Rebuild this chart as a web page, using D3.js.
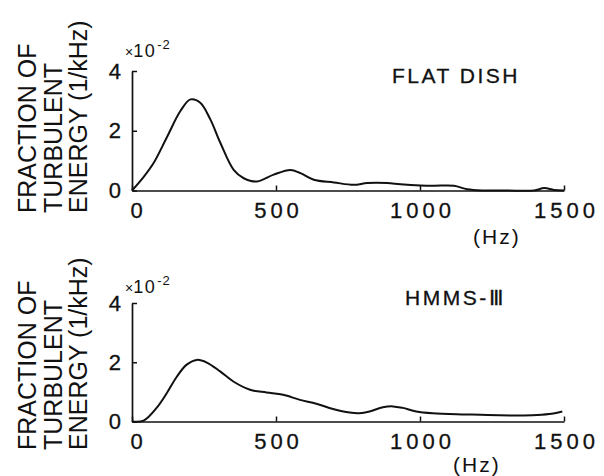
<!DOCTYPE html>
<html><head><meta charset="utf-8">
<script src="https://cdn.jsdelivr.net/npm/d3@7"></script>
<style>
body{margin:0;background:#fff}
svg{display:block}
text{font-family:"Liberation Sans",Arial,sans-serif;fill:#111}
</style></head><body>
<svg id="chart" width="604" height="476"></svg>
<script>
// Spectra of turbulent energy (fraction per kHz, x10^-2) vs. frequency
const freqTicks = [0, 500, 1000, 1500];
const energyTicks = [0, 2, 4];
const panelTitles = ["FLAT DISH", "HMMS-Ⅲ"];
const axisTitleLines = ["FRACTION OF", "TURBULENT", "ENERGY (1/kHz)"];
const freqUnit = "(Hz)";

const flatDishFreq   = [0, 40, 75, 122, 168, 203, 237, 272, 307, 353, 388, 434, 492, 550, 585, 631, 701, 770, 817, 886, 932, 1002, 1048, 1118, 1164, 1222, 1300, 1396, 1431, 1465, 1500];
const flatDishEnergy = [0, 0.45, 0.92, 1.8, 2.66, 3.05, 2.94, 2.38, 1.59, 0.69, 0.41, 0.3, 0.53, 0.69, 0.58, 0.36, 0.27, 0.19, 0.25, 0.25, 0.21, 0.17, 0.16, 0.16, 0.04, 0, 0, 0, 0.08, 0.02, 0];

const hmmsFreq   = [0, 40, 87, 121, 156, 190, 225, 260, 306, 352, 410, 467, 525, 583, 640, 698, 756, 790, 825, 871, 906, 940, 987, 1044, 1160, 1275, 1390, 1448, 1494];
const hmmsEnergy = [0, 0.03, 0.48, 0.96, 1.52, 1.92, 2.08, 1.99, 1.69, 1.35, 1.07, 0.98, 0.9, 0.73, 0.6, 0.42, 0.3, 0.28, 0.34, 0.48, 0.51, 0.46, 0.34, 0.28, 0.24, 0.21, 0.21, 0.25, 0.34];

const svg = d3.select("#chart");
const ink = "#111";

const panels = [
  { title: panelTitles[0], freq: flatDishFreq, energy: flatDishEnergy,
    y0: 190.5, y4: 71, titleX: 392, titleY: 83, unitX: 473, unitY: 244, expY: 57, labelBase: 213 },
  { title: panelTitles[1], freq: hmmsFreq, energy: hmmsEnergy,
    y0: 421.5, y4: 303, titleX: 405, titleY: 305, unitX: 453, unitY: 472, expY: 293, labelBase: 450 }
];

const x = d3.scaleLinear().domain([0, 1500]).range([132, 564]);

panels.forEach(p => {
  const y = d3.scaleLinear().domain([0, 4]).range([p.y0, p.y4]);
  const g = svg.append("g");

  // axes with inward ticks
  const yAxis = d3.axisLeft(y).tickValues(energyTicks).tickFormat(d3.format("d"))
    .tickSizeInner(-5).tickSizeOuter(0).tickPadding(11);
  const gy = g.append("g").attr("transform", `translate(${x(0)},0)`).call(yAxis);
  const xAxis = d3.axisBottom(x).tickValues(freqTicks).tickFormat(d3.format("d"))
    .tickSizeInner(-5).tickSizeOuter(0).tickPadding(12);
  const gx = g.append("g").attr("transform", `translate(0,${y(0)})`).call(xAxis);

  [gy, gx].forEach(a => {
    a.select(".domain").attr("stroke", ink).attr("stroke-width", 1.7);
    a.selectAll(".tick line").attr("stroke", ink).attr("stroke-width", 1.5);
    a.selectAll(".tick text").attr("fill", ink).attr("font-family", '"Liberation Sans",Arial,sans-serif')
      .attr("stroke", ink).attr("stroke-width", 0.3);
  });
  gy.selectAll(".tick text").attr("font-size", 22);
  gx.selectAll(".tick text").attr("font-size", 22).style("letter-spacing", "4px")
    .attr("dx", d => d === 0 ? 6 : 2);

  // spectrum curve
  const line = d3.line()
    .x((d, i) => x(p.freq[i]))
    .y(d => y(d))
    .curve(d3.curveCatmullRom.alpha(0.5));
  g.append("path").datum(p.energy)
    .attr("d", line)
    .attr("fill", "none")
    .attr("stroke", ink)
    .attr("stroke-width", 2)
    .attr("stroke-linejoin", "round");

  // exponent marker
  const ex = g.append("text").attr("x", 125).attr("y", p.expY).attr("font-size", 18);
  ex.append("tspan").attr("font-size", 14).text("×");
  ex.append("tspan").style("letter-spacing", "1.5px").text("10");
  ex.append("tspan").attr("dy", -8).attr("dx", 1).attr("font-size", 13)
    .style("letter-spacing", "1px").text("-2");

  // panel title
  g.append("text").attr("x", p.titleX).attr("y", p.titleY)
    .attr("font-size", 21).attr("stroke", ink).attr("stroke-width", 0.3)
    .style("letter-spacing", "2.5px").text(p.title);

  // frequency unit
  g.append("text").attr("x", p.unitX).attr("y", p.unitY)
    .attr("font-size", 21).style("letter-spacing", "2px").text(freqUnit);

  // rotated three-line axis title
  const baseX = [36, 62, 87];
  axisTitleLines.forEach((t, i) => {
    g.append("text")
      .attr("transform", `translate(${baseX[i]},${p.labelBase}) rotate(-90)`)
      .attr("font-size", 25)
      .text(t);
  });
});
</script>
</body></html>
